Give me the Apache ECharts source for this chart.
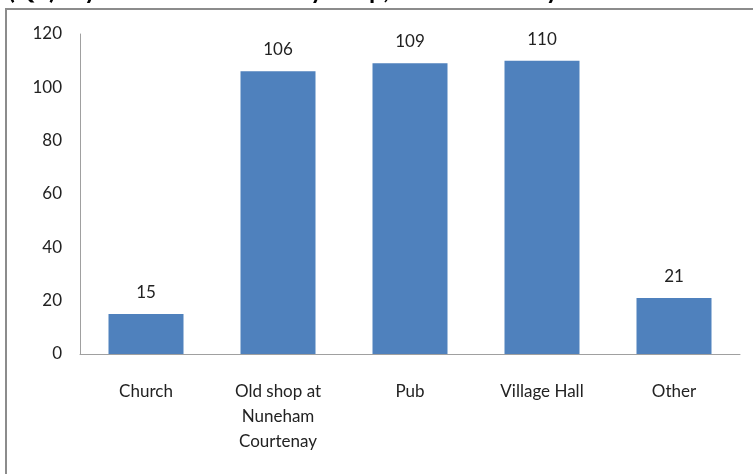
<!DOCTYPE html>
<html>
<head>
<meta charset="utf-8">
<script src="https://cdn.jsdelivr.net/npm/echarts@6/dist/echarts.min.js"></script>
<style>
html,body{margin:0;padding:0;background:#fff;}
#chart{width:753px;height:474px;}
</style>
</head>
<body>
<div id="chart"></div>
<script>
var categories = ['Church', 'Old shop at\nNuneham\nCourtenay', 'Pub', 'Village Hall', 'Other'];
var values = [15, 106, 109, 110, 21];
var yTicks = [0, 20, 40, 60, 80, 100, 120];
var titleText = '(Q5) If your local community shop, where would you like it to be?';

var chart = echarts.init(document.getElementById('chart'));
var font = 'Lato, "Open Sans", sans-serif';
chart.setOption({
  animation: false,
  backgroundColor: '#ffffff',
  graphic: [
    {
      type: 'rect',
      shape: { x: 6, y: 9, width: 800, height: 500 },
      style: { fill: 'none', stroke: '#8c8c8c', lineWidth: 2 },
      silent: true
    },
    {
      type: 'text',
      x: 8,
      y: -22,
      style: { text: titleText, font: 'bold 25px Lato, sans-serif', fill: '#000000' },
      silent: true
    }
  ],
  grid: { left: 80, right: 13, top: 34, bottom: 120, containLabel: false },
  xAxis: {
    type: 'category',
    data: categories,
    axisLine: { lineStyle: { color: '#a0a0a0', width: 1 } },
    axisTick: { show: false },
    axisLabel: {
      color: '#222222',
      fontFamily: font,
      fontSize: 17,
      lineHeight: 25,
      margin: 25,
      interval: 0
    }
  },
  yAxis: {
    type: 'value',
    min: yTicks[0],
    max: yTicks[yTicks.length - 1],
    interval: 20,
    axisLine: { show: true, lineStyle: { color: '#a0a0a0', width: 1 } },
    axisTick: { show: false },
    splitLine: { show: false },
    axisLabel: {
      color: '#222222',
      fontFamily: font,
      fontSize: 17,
      margin: 18
    }
  },
  series: [{
    type: 'bar',
    data: values,
    barWidth: 75,
    itemStyle: { color: '#4f81bd' },
    label: {
      show: true,
      position: 'top',
      distance: 13,
      color: '#222222',
      fontFamily: font,
      fontSize: 17
    }
  }]
});
</script>
</body>
</html>
